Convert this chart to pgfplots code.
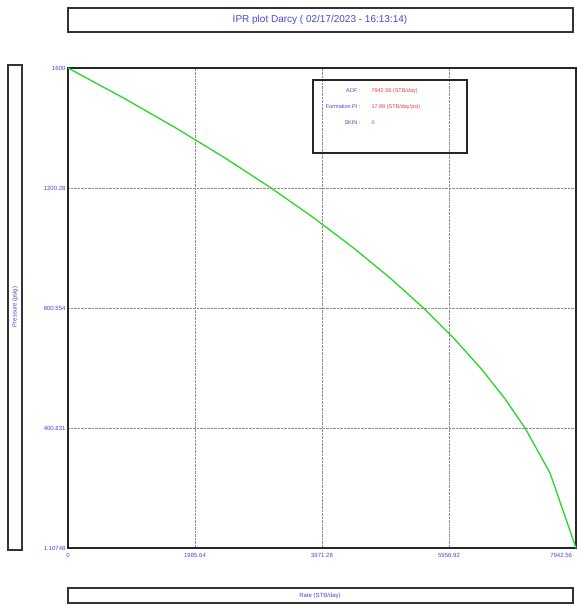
\documentclass[border=0pt]{standalone}
\usepackage{pgfplots}
\pgfplotsset{compat=1.18}
\usepackage{fontspec}
\setmainfont{Liberation Sans}
\definecolor{lblue}{RGB}{70,70,215}
\definecolor{lred}{RGB}{235,60,60}
\definecolor{lgreen}{RGB}{40,215,40}
\begin{document}
\begin{tikzpicture}[x=1pt,y=1pt]
\useasboundingbox (0,0) rectangle (576,607);
% title box
\draw[line width=1.3pt, black!80] (68,575) rectangle (573,599);
\node[text=lblue, font=\fontsize{10}{12}\selectfont] at (320,587) {IPR plot Darcy ( 02/17/2023 - 16:13:14)};
% y label box
\draw[line width=1.3pt, black!80] (8,57) rectangle (22,542);
\node[text=lblue, rotate=90, font=\fontsize{6}{7}\selectfont] at (15,300) {Pressure (psig)};
% x label box
\draw[line width=1.3pt, black!80] (68,4) rectangle (573,19);
\node[text=lblue, font=\fontsize{6}{7}\selectfont] at (320,11.5) {Rate (STB/day)};
\begin{axis}[
  at={(68pt,59pt)}, anchor=south west,
  scale only axis, width=508pt, height=480pt,
  xmin=0, xmax=7942.56, ymin=1.10748, ymax=1600,
  xtick={0,1985.64,3971.28,5956.92,7942.56},
  xticklabels={0,1985.64,3971.28,5956.92,{\llap{7942.56}\hspace*{8pt}}},
  ytick={1.10748,400.831,800.554,1200.28,1600},
  yticklabels={1.10748,400.831,800.554,1200.28,1600},
  grid=major, grid style={black!45, densely dotted, line width=0.6pt},
  tick label style={font=\fontsize{6}{7}\selectfont, text=lblue},
  xticklabel style={yshift=-2pt},
  yticklabel style={xshift=1pt},
  axis line style={line width=1.3pt, black!85},
  major tick length=0pt,
  clip=false,
]
\addplot[lgreen, line width=1.3pt] coordinates {
(0,1600) (869,1500) (1688,1400) (2457,1300) (3177,1200) (3848,1100)
(4468,1000) (5039,900) (5560,800) (6031,700) (6453,600) (6826,500)
(7148,400) (7536,251) (7942.56,1.10748)
};
\end{axis}
% info box
\draw[line width=1.3pt, black!85] (313,454) rectangle (467,527);
\node[anchor=east, text=lblue, font=\fontsize{5.5}{6.5}\selectfont] at (364,516) {AOF :};
\node[anchor=east, text=lblue, font=\fontsize{5.5}{6.5}\selectfont] at (364,500) {Formation PI :};
\node[anchor=east, text=lblue, font=\fontsize{5.5}{6.5}\selectfont] at (364,484) {SKIN :};
\node[anchor=west, text=lred, font=\fontsize{5.5}{6.5}\selectfont] at (368,516) {7942.56 (STB/day)};
\node[anchor=west, text=lred, font=\fontsize{5.5}{6.5}\selectfont] at (368,500) {17.99 (STB/day/psi)};
\node[anchor=west, text=lred, font=\fontsize{5.5}{6.5}\selectfont] at (368,484) {0};
\end{tikzpicture}
\end{document}
